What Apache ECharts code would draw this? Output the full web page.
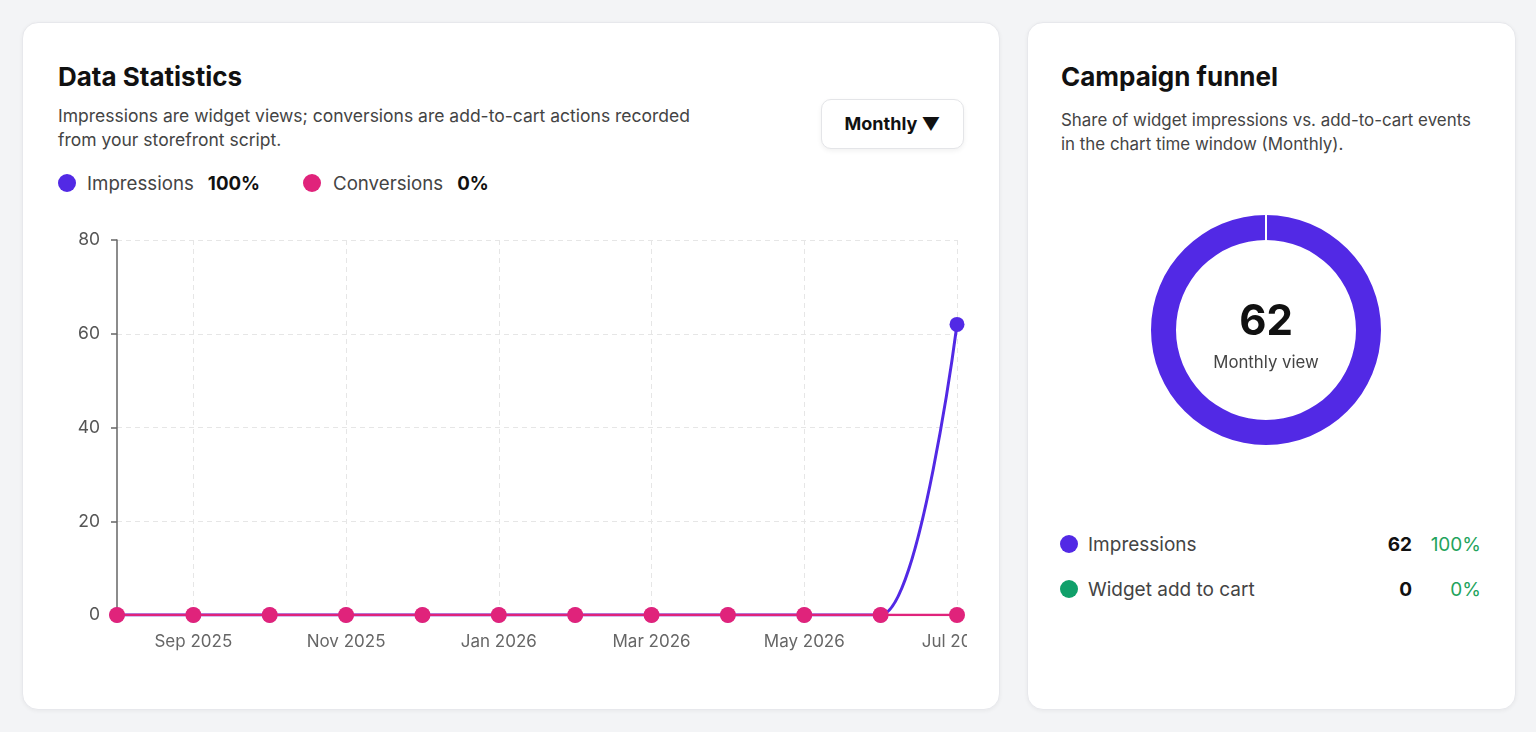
<!DOCTYPE html>
<html>
<head>
<meta charset="utf-8">
<script src="https://cdn.jsdelivr.net/npm/echarts@6/dist/echarts.min.js"></script>
<style>
  html, body { margin: 0; padding: 0; }
  body { width: 1536px; height: 732px; background: #f3f4f6; font-family: Inter, "Noto Sans", sans-serif; position: relative; overflow: hidden; }
  .card { position: absolute; background: #fff; border: 1px solid #e7e8ec; border-radius: 16px; box-shadow: 0 1px 4px rgba(0,0,0,0.05); box-sizing: border-box; }
  .title { position: absolute; font-size: 26px; font-weight: 700; color: #111; white-space: nowrap; }
  .sub { position: absolute; font-size: 17.5px; color: #444; line-height: 24px; white-space: nowrap; }
  .abs { position: absolute; }
  .dot { position: absolute; width: 18px; height: 18px; border-radius: 50%; }
  .leg { position: absolute; font-size: 18.7px; color: #444; white-space: nowrap; }
  .leg b { color: #111; font-weight: 700; margin-left: 14px; }
  .btn { position: absolute; left: 821px; top: 99px; width: 143px; height: 50px; border: 1px solid #e4e5e8; border-radius: 10px; box-shadow: 0 2px 5px rgba(0,0,0,0.06); box-sizing: border-box; font-size: 18px; font-weight: 700; color: #111; text-align: center; line-height: 48px; background: #fff; }
  .center-num { position: absolute; left: 1166px; width: 200px; text-align: center; font-size: 42px; font-weight: 700; color: #111; }
  .center-lbl { position: absolute; left: 1166px; width: 200px; text-align: center; font-size: 16.8px; color: #444; }
  .rrow-label { position: absolute; font-size: 19px; color: #444; white-space: nowrap; }
  .rrow-val { position: absolute; font-size: 19px; font-weight: 700; color: #111; text-align: right; width: 60px; }
  .rrow-pct { position: absolute; font-size: 19px; color: #22a35c; text-align: right; width: 80px; }
</style>
</head>
<body>
<div class="card" style="left:22px; top:22px; width:978px; height:688px;"></div>
<div class="card" style="left:1027px; top:22px; width:489px; height:688px;"></div>

<div class="title" style="left:58px; top:61px;">Data Statistics</div>
<div class="sub" style="left:58px; top:104px;">Impressions are widget views; conversions are add-to-cart actions recorded<br>from your storefront script.</div>
<div class="btn">Monthly ▼</div>
<div id="legendL"></div>
<div id="line" class="abs" style="left:22px; top:225px; width:945px; height:440px;"></div>

<div class="title" style="left:1061px; top:61px;">Campaign funnel</div>
<div class="sub" style="left:1061px; top:108px; font-size:16.9px;">Share of widget impressions vs. add-to-cart events<br>in the chart time window (Monthly).</div>
<div id="pie" class="abs" style="left:1116px; top:180px; width:300px; height:300px;"></div>
<div id="centerNum" class="center-num" style="top:294px;"></div>
<div class="center-lbl" style="top:352px;">Monthly view</div>
<div id="legendR"></div>

<script>
// ---- data ----
const months = ['Aug 2025','Sep 2025','Oct 2025','Nov 2025','Dec 2025','Jan 2026','Feb 2026','Mar 2026','Apr 2026','May 2026','Jun 2026','Jul 2026'];
const impressions = [0,0,0,0,0,0,0,0,0,0,0,62];
const conversions = [0,0,0,0,0,0,0,0,0,0,0,0];
const seriesNames = ['Impressions','Conversions'];
const yMax = 80;
const yStep = 20;
const funnelLabels = ['Impressions','Widget add to cart'];
const funnelValues = [62, 0];

const PURPLE = '#5229e5';
const PINK = '#e0237b';
const GREEN = '#10a06a';

// ---- left legend ----
const sumI = impressions.reduce((a,b)=>a+b,0);
const sumC = conversions.reduce((a,b)=>a+b,0);
const tot = sumI + sumC;
const pct = v => (tot ? Math.round(v/tot*100) : 0) + '%';
const legL = document.getElementById('legendL');
legL.innerHTML =
  `<div class="dot" style="left:58px; top:174px; background:${PURPLE}"></div>
   <div class="leg" style="left:87px; top:172px;">${seriesNames[0]}<b>${pct(sumI)}</b></div>
   <div class="dot" style="left:303px; top:174px; background:${PINK}"></div>
   <div class="leg" style="left:333px; top:172px;">${seriesNames[1]}<b>${pct(sumC)}</b></div>`;

// ---- line chart ----
const lc = echarts.init(document.getElementById('line'));
const showOdd = (i) => i % 2 === 1;
lc.setOption({
  animation: false,
  grid: { left: 95, right: 10, top: 15, bottom: 50, containLabel: false, outerBoundsMode: 'none' },
  xAxis: {
    type: 'category', data: months, boundaryGap: false,
    axisLine: { show: true, lineStyle: { color: '#777', width: 1 } },
    axisTick: { show: false },
    axisLabel: { interval: showOdd, color: '#666', fontSize: 17, margin: 18, fontFamily: 'Inter' },
    splitLine: { show: true, interval: showOdd, lineStyle: { color: '#e6e6e6', type: [5,4], width: 1 } }
  },
  yAxis: {
    type: 'value', min: 0, max: yMax, interval: yStep,
    axisLine: { show: true, lineStyle: { color: '#666', width: 1.5 } },
    axisTick: { show: true, inside: false, length: 6, lineStyle: { color: '#666', width: 1.5 } },
    axisLabel: { color: '#555', fontSize: 17.5, margin: 17, fontFamily: 'Inter' },
    splitLine: { show: true, lineStyle: { color: '#e6e6e6', type: [5,4], width: 1 } }
  },
  series: [
    { name: seriesNames[0], type: 'line', data: impressions, smooth: true, smoothMonotone: 'x',
      symbol: 'circle', symbolSize: 15, itemStyle: { color: PURPLE }, lineStyle: { color: PURPLE, width: 3 } },
    { name: seriesNames[1], type: 'line', data: conversions,
      symbol: 'circle', symbolSize: 16, itemStyle: { color: PINK }, lineStyle: { color: PINK, width: 2.5 } }
  ]
});

// ---- donut ----
const pc = echarts.init(document.getElementById('pie'));
const ftot = funnelValues.reduce((a,b)=>a+b,0);
pc.setOption({
  animation: false,
  series: [{
    type: 'pie', center: ['50%','50%'], radius: [90, 115], startAngle: 90, clockwise: true,
    label: { show: false }, labelLine: { show: false }, emphasis: { disabled: true }, minAngle: 0,
    data: funnelLabels.map((n, i) => ({
      name: n, value: funnelValues[i],
      itemStyle: i === 0 ? { color: PURPLE } : { color: GREEN, borderColor: '#fff', borderWidth: 2 }
    }))
  }]
});
document.getElementById('centerNum').textContent = funnelValues[0];

// ---- right legend ----
const rColors = [PURPLE, GREEN];
const legR = document.getElementById('legendR');
legR.innerHTML = funnelLabels.map((n, i) => {
  const y = 535 + i * 45;
  const p = (ftot ? Math.round(funnelValues[i]/ftot*100) : 0) + '%';
  return `<div class="dot" style="left:1060px; top:${y}px; background:${rColors[i]}"></div>
    <div class="rrow-label" style="left:1088px; top:${y-2}px;">${n}</div>
    <div class="rrow-val" style="left:1352px; top:${y-2}px;">${funnelValues[i]}</div>
    <div class="rrow-pct" style="left:1401px; top:${y-2}px;">${p}</div>`;
}).join('');
</script>
</body>
</html>
